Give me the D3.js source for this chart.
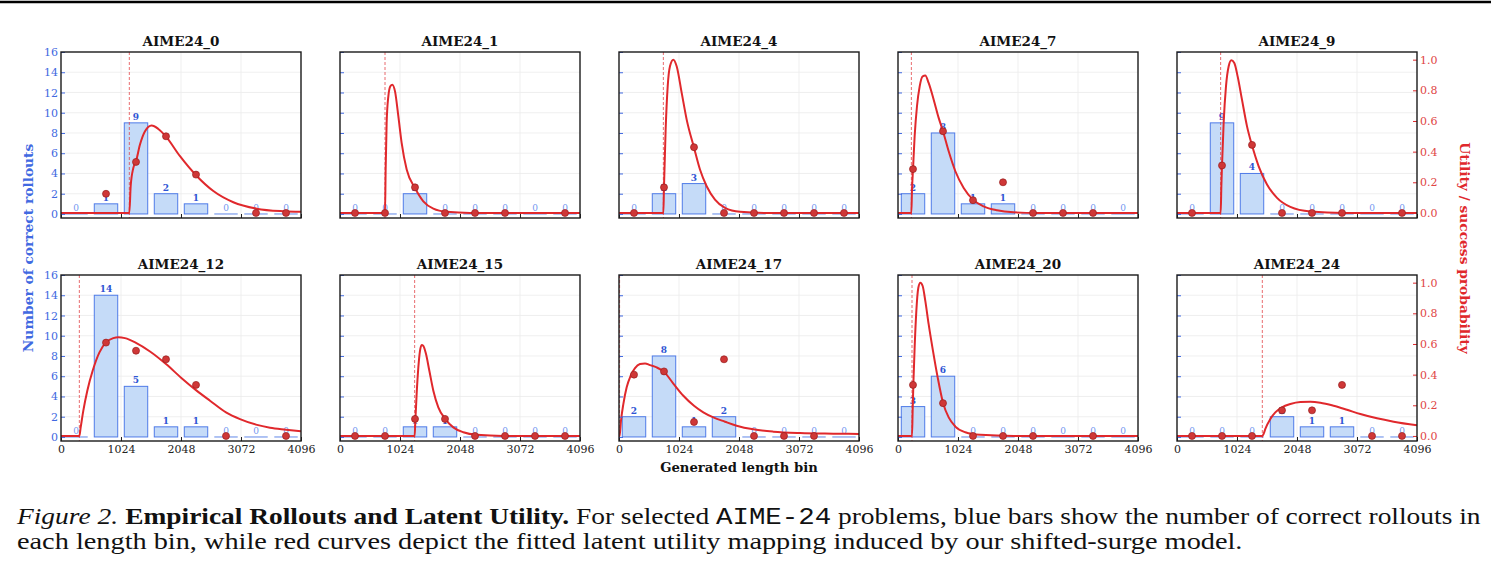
<!DOCTYPE html>
<html>
<head>
<meta charset="utf-8">
<script src="https://cdn.jsdelivr.net/npm/d3@7"></script>
<style>
body { margin: 0; background: #fff; }
svg { display: block; }
</style>
</head>
<body>
<svg id="fig" width="1491" height="575"></svg>
<script>
// length bins (centres) and axis ticks
const bin_centers = [256, 768, 1280, 1792, 2304, 2816, 3328, 3840];
const x_ticks = [0, 1024, 2048, 3072, 4096];
const count_ticks = [0, 2, 4, 6, 8, 10, 12, 14, 16];
const prob_ticks = [0, 0.2, 0.4, 0.6, 0.8, 1.0];
const problem_names = ["AIME24_0", "AIME24_1", "AIME24_4", "AIME24_7", "AIME24_9",
                       "AIME24_12", "AIME24_15", "AIME24_17", "AIME24_20", "AIME24_24"];

// correct rollouts per bin
const counts_0  = [0, 1, 9, 2, 1, 0, 0, 0];
const counts_1  = [0, 0, 2, 0, 0, 0, 0, 0];
const counts_4  = [0, 2, 3, 0, 0, 0, 0, 0];
const counts_7  = [2, 8, 1, 1, 0, 0, 0, 0];
const counts_9  = [0, 9, 4, 0, 0, 0, 0, 0];
const counts_12 = [0, 14, 5, 1, 1, 0, 0, 0];
const counts_15 = [0, 0, 1, 1, 0, 0, 0, 0];
const counts_17 = [2, 8, 1, 2, 0, 0, 0, 0];
const counts_20 = [3, 6, 0, 0, 0, 0, 0, 0];
const counts_24 = [0, 0, 0, 2, 1, 1, 0, 0];

// empirical success probability per bin (null = no rollouts)
const success_0  = [null, 0.125, 0.333, 0.5, 0.25, null, 0, 0];
const success_1  = [0, 0, 0.167, 0, 0, 0, null, 0];
const success_4  = [0, 0.167, 0.429, 0, 0, 0, 0, 0];
const success_7  = [0.286, 0.533, 0.083, 0.2, 0, 0, 0, null];
const success_9  = [0, 0.31, 0.444, 0, 0, 0, null, 0];
const success_12 = [null, 0.609, 0.556, 0.5, 0.333, 0, null, 0];
const success_15 = [0, 0, 0.111, 0.111, 0, 0, 0, 0];
const success_17 = [0.4, 0.421, 0.091, 0.5, 0, 0, 0, null];
const success_20 = [0.333, 0.214, 0, 0, 0, null, 0, null];
const success_24 = [0, 0, 0, 0.167, 0.167, 0.333, 0, 0];

// shift point (dashed line)
const shifts = [1166, 768, 757, 228, 745, 313, 1274, 10, 239, 1456];

// fitted utility curves, [length, utility]
const curve_0 = [[0,0],[1166,0],[1189,0.174],[1234,0.293],[1280,0.337],[1348,0.446],[1434,0.533],[1547,0.57],[1661,0.548],[1792,0.498],[2031,0.37],[2304,0.246],[2600,0.143],[2941,0.07],[3339,0.028],[3794,0.011],[4096,0.007]];
const curve_1 = [[0,0],[768,0],[779,0.283],[796,0.587],[825,0.761],[859,0.826],[893,0.837],[939,0.793],[996,0.63],[1052,0.457],[1138,0.283],[1280,0.163],[1422,0.076],[1593,0.028],[1820,0.007],[2219,0],[4096,0]];
const curve_4 = [[0,0],[757,0],[768,0.174],[796,0.543],[831,0.826],[870,0.957],[927,1.0],[984,0.957],[1070,0.783],[1155,0.609],[1280,0.426],[1382,0.283],[1496,0.174],[1638,0.087],[1809,0.033],[2065,0.007],[2520,0],[4096,0]];
const curve_7 = [[0,0],[228,0],[239,0.152],[256,0.283],[284,0.5],[324,0.696],[370,0.826],[421,0.891],[466,0.896],[523,0.848],[609,0.739],[694,0.62],[768,0.533],[865,0.402],[979,0.272],[1121,0.163],[1280,0.087],[1462,0.043],[1690,0.017],[1974,0.004],[2372,0],[4096,0]];
const curve_9 = [[0,0],[745,0],[757,0.174],[768,0.309],[796,0.587],[836,0.826],[882,0.957],[927,0.996],[978,0.978],[1035,0.891],[1109,0.739],[1195,0.565],[1280,0.441],[1394,0.304],[1536,0.185],[1707,0.098],[1934,0.039],[2276,0.009],[2844,0],[4096,0]];
const curve_12 = [[0,0],[313,0],[336,0.056],[381,0.165],[449,0.295],[540,0.425],[654,0.544],[768,0.61],[893,0.638],[978,0.644],[1092,0.638],[1280,0.607],[1519,0.551],[1792,0.469],[2059,0.377],[2304,0.299],[2543,0.23],[2816,0.154],[3055,0.11],[3328,0.074],[3567,0.054],[3840,0.041],[4096,0.03]];
const curve_15 = [[0,0],[1274,0],[1286,0.1],[1308,0.273],[1337,0.447],[1365,0.555],[1394,0.594],[1422,0.588],[1468,0.534],[1525,0.425],[1593,0.295],[1678,0.187],[1792,0.113],[1934,0.056],[2105,0.024],[2332,0.007],[2788,0],[4096,0]];
const curve_17 = [[0,0],[10,0],[34,0.1],[74,0.208],[131,0.317],[199,0.393],[273,0.443],[358,0.469],[444,0.473],[529,0.462],[643,0.447],[768,0.418],[927,0.342],[1098,0.262],[1280,0.197],[1439,0.154],[1610,0.121],[1809,0.093],[2008,0.067],[2293,0.043],[2634,0.028],[3089,0.019],[3658,0.015],[4096,0.013]];
const curve_20 = [[0,0],[239,0],[250,0.165],[262,0.336],[284,0.577],[313,0.816],[347,0.967],[381,1.0],[421,0.978],[466,0.881],[523,0.729],[597,0.555],[677,0.382],[768,0.217],[865,0.121],[979,0.061],[1149,0.024],[1405,0.007],[1974,0],[4096,0]];
const curve_24 = [[0,0],[1456,0],[1480,0.015],[1508,0.046],[1593,0.111],[1678,0.154],[1792,0.187],[1934,0.208],[2105,0.221],[2276,0.223],[2446,0.217],[2674,0.197],[2901,0.171],[3129,0.143],[3413,0.115],[3698,0.093],[4096,0.069]];

const all_counts = [counts_0, counts_1, counts_4, counts_7, counts_9, counts_12, counts_15, counts_17, counts_20, counts_24];
const all_success = [success_0, success_1, success_4, success_7, success_9, success_12, success_15, success_17, success_20, success_24];
const all_curves = [curve_0, curve_1, curve_4, curve_7, curve_9, curve_12, curve_15, curve_17, curve_20, curve_24];

const left_margin = 61;
const col_step = 279;
const row_top = [52, 275];
const panel_w = 240;
const panel_h = 166;
const bar_w = 400;

const serif = "'DejaVu Serif', serif";
const blue = "#4169e1";
const bar_blue = "#4f7be8";
const red = "#e0282c";

const svg = d3.select("#fig");

// top rule
svg.append("line")
    .attr("x1", 0).attr("x2", 1491)
    .attr("y1", 2).attr("y2", 2)
    .attr("stroke", "#000")
    .attr("stroke-width", 2.5);

function drawPanel(i) {
    const row = Math.floor(i / 5), col = i % 5;
    const counts = all_counts[i], success = all_success[i];
    const g = svg.append("g")
        .attr("transform", `translate(${left_margin + col * col_step},${row_top[row]})`);

    const x = d3.scaleLinear().domain([0, 4096]).range([0, panel_w]);
    const yc = d3.scaleLinear().domain([-0.4, 16]).range([panel_h, 0]);
    const yp = d3.scaleLinear().domain([-0.033, 1.05]).range([panel_h, 0]);

    const clipId = "clip" + i;
    g.append("clipPath").attr("id", clipId)
        .append("rect").attr("width", panel_w).attr("height", panel_h);

    //grid
    g.selectAll(".vgrid").data(x_ticks.slice(1, -1)).enter().append("line")
        .attr("x1", d => x(d)).attr("x2", d => x(d))
        .attr("y1", 0).attr("y2", panel_h)
        .attr("stroke", "#ebebeb").attr("stroke-width", 0.8);
    g.selectAll(".hgrid").data(count_ticks.slice(1, -1)).enter().append("line")
        .attr("x1", 0).attr("x2", panel_w)
        .attr("y1", d => yc(d)).attr("y2", d => yc(d))
        .attr("stroke", "#ebebeb").attr("stroke-width", 0.8);

    const plot = g.append("g").attr("clip-path", `url(#${clipId})`);

    const bins = bin_centers.map((c, j) => ({c: c, n: counts[j], p: success[j]}));

    //bars
    plot.selectAll(".bar").data(bins.filter(d => d.n > 0)).enter().append("rect")
        .attr("x", d => x(d.c - bar_w / 2))
        .attr("width", d => x(d.c + bar_w / 2) - x(d.c - bar_w / 2))
        .attr("y", d => yc(d.n))
        .attr("height", d => yc(0) - yc(d.n))
        .attr("fill", "#c5dbf8")
        .attr("stroke", bar_blue)
        .attr("stroke-width", 1);
    plot.selectAll(".zbar").data(bins.filter(d => d.n === 0)).enter().append("line")
        .attr("x1", d => x(d.c - bar_w / 2))
        .attr("x2", d => x(d.c + bar_w / 2))
        .attr("y1", yc(0)).attr("y2", yc(0))
        .attr("stroke", bar_blue).attr("stroke-opacity", 0.5)
        .attr("stroke-width", 1.8);

    //count labels
    plot.selectAll(".lab").data(bins).enter().append("text")
        .attr("x", d => x(d.c))
        .attr("y", d => yc(d.n) - 3)
        .attr("text-anchor", "middle")
        .attr("font-family", serif)
        .attr("font-size", 9)
        .attr("font-weight", d => d.n > 0 ? "bold" : "normal")
        .attr("fill", d => d.n > 0 ? "#2f55d4" : "#7396f0")
        .text(d => d.n);

    //shift line
    plot.append("line")
        .attr("x1", x(shifts[i])).attr("x2", x(shifts[i]))
        .attr("y1", 0).attr("y2", panel_h)
        .attr("stroke", "#e0393d").attr("stroke-opacity", 0.75)
        .attr("stroke-width", 1)
        .attr("stroke-dasharray", "3,2");

    //utility curve
    const line = d3.line()
        .x(d => x(d[0]))
        .y(d => yp(d[1]))
        .curve(d3.curveMonotoneX);
    plot.append("path")
        .attr("d", line(all_curves[i]))
        .attr("fill", "none")
        .attr("stroke", red)
        .attr("stroke-width", 2);

    //empirical points
    plot.selectAll(".dot").data(bins.filter(d => d.p !== null)).enter().append("circle")
        .attr("cx", d => x(d.c))
        .attr("cy", d => yp(d.p))
        .attr("r", 3.5)
        .attr("fill", "#cf3737")
        .attr("stroke", "#961c1c")
        .attr("stroke-width", 0.7);

    //axes
    const xAxis = d3.axisBottom(x).tickValues(x_ticks).tickSize(-4).tickPadding(4)
        .tickFormat(row === 0 ? "" : d3.format("d"));
    const xg = g.append("g").attr("transform", `translate(0,${panel_h})`).call(xAxis);
    xg.select(".domain").remove();
    xg.selectAll("line").attr("stroke", "#222");
    xg.selectAll("text").attr("font-family", serif).attr("font-size", 11).attr("fill", "#222");

    const lAxis = d3.axisLeft(yc).tickValues(count_ticks).tickSize(-4).tickPadding(3)
        .tickFormat(col === 0 ? d3.format("d") : "");
    const lg = g.append("g").call(lAxis);
    lg.select(".domain").remove();
    lg.selectAll("line").attr("stroke", blue);
    lg.selectAll("text").attr("font-family", serif).attr("font-size", 11).attr("fill", blue);

    if (col === 4) {
        const rAxis = d3.axisRight(yp).tickValues(prob_ticks).tickFormat(d3.format(".1f"))
            .tickSize(-4).tickPadding(3);
        const rg = g.append("g").attr("transform", `translate(${panel_w},0)`).call(rAxis);
        rg.select(".domain").remove();
        rg.selectAll("line").attr("stroke", red);
        rg.selectAll("text").attr("font-family", serif).attr("font-size", 11).attr("fill", "#e04545");
    }

    //frame
    g.append("rect")
        .attr("width", panel_w).attr("height", panel_h)
        .attr("fill", "none")
        .attr("stroke", "#1a1a1a")
        .attr("stroke-width", 1.4);

    //title
    g.append("text")
        .attr("x", panel_w / 2).attr("y", -6.5)
        .attr("text-anchor", "middle")
        .attr("font-family", serif)
        .attr("font-size", 13.5)
        .attr("font-weight", "bold")
        .attr("fill", "#111")
        .text(problem_names[i]);
}

for (let i = 0; i < problem_names.length; i++) {
    drawPanel(i);
}

// shared axis titles
svg.append("text")
    .attr("transform", "translate(28,248) rotate(-90)")
    .attr("dy", "0.35em")
    .attr("text-anchor", "middle")
    .attr("font-family", serif).attr("font-size", 13.8).attr("font-weight", "bold")
    .attr("fill", blue)
    .text("Number of correct rollouts");
svg.append("text")
    .attr("transform", "translate(1465,248) rotate(90)")
    .attr("dy", "0.35em")
    .attr("text-anchor", "middle")
    .attr("font-family", serif).attr("font-size", 13.8).attr("font-weight", "bold")
    .attr("fill", red)
    .text("Utility / success probability");
svg.append("text")
    .attr("x", left_margin + 2 * col_step + panel_w / 2).attr("y", 472)
    .attr("text-anchor", "middle")
    .attr("font-family", serif).attr("font-size", 13.2).attr("font-weight", "bold")
    .attr("fill", "#111")
    .text("Generated length bin");

// caption, stretched to the width it has in the figure
const capFont = "'Liberation Serif', 'Times New Roman', serif";
function captionLine(y, width) {
    return svg.append("text")
        .attr("font-family", capFont).attr("font-size", 23).attr("fill", "#111")
        .attr("data-y", y).attr("data-w", width);
}
function fitLine(t) {
    const w = t.node().getComputedTextLength();
    t.attr("transform", `translate(17,${t.attr("data-y")}) scale(${t.attr("data-w") / w},1)`);
}
const cap1 = captionLine(524, 1457);
cap1.append("tspan").attr("font-style", "italic").text("Figure 2.");
cap1.append("tspan").attr("font-weight", "bold").attr("dx", 6).text("Empirical Rollouts and Latent Utility.");
cap1.append("tspan").text(" For selected ");
cap1.append("tspan").attr("font-family", "'Liberation Mono', monospace").text("AIME-24");
cap1.append("tspan").text(" problems, blue bars show the number of correct rollouts in");
const cap2 = captionLine(549, 1226)
    .text("each length bin, while red curves depict the fitted latent utility mapping induced by our shifted-surge model.");
fitLine(cap1);
fitLine(cap2);
</script>
</body>
</html>
